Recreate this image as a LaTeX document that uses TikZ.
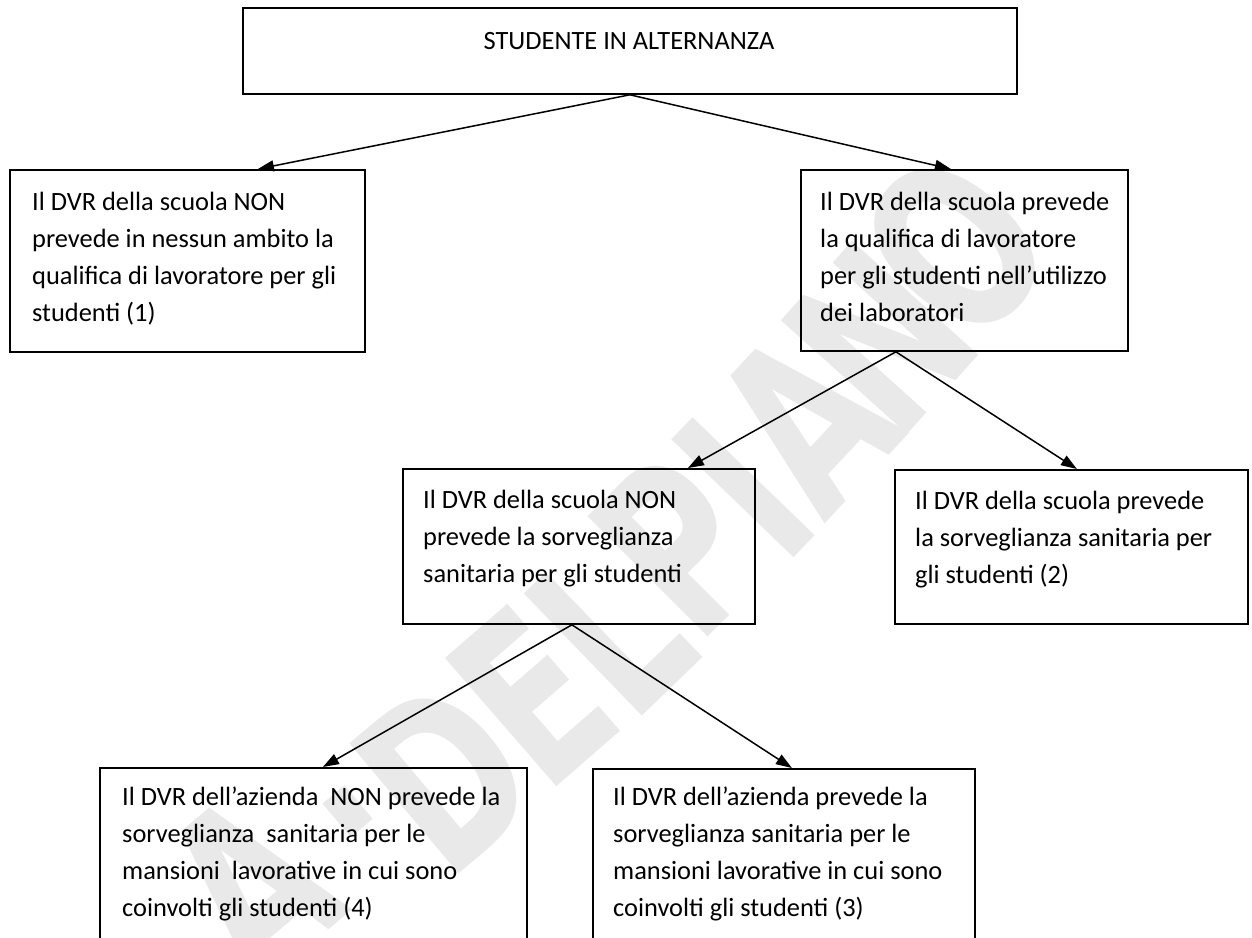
\documentclass[tikz,border=0pt]{standalone}
\usepackage{fontspec}
\usepackage{graphicx}
\setmainfont{Carlito}
\newfontfamily\wmfont{DejaVu Sans}
\usetikzlibrary{arrows.meta}
\newcommand\bodyfont{\fontsize{26.4}{37}\selectfont}
\newcommand\boxlines[1]{\parbox[t]{600pt}{\raggedright #1}}
\newcommand\wmch[1]{\scalebox{0.7}[1]{#1}}
\begin{document}
\begin{tikzpicture}[x=1pt,y=-1pt,
  box/.style={draw, line width=1.8pt, inner sep=0pt, anchor=north west},
  txt/.style={inner sep=0pt, anchor=base west, font=\bodyfont},
  arr/.style={line width=1.5pt, -{Triangle[length=16pt,width=11pt]}},
  wm/.style={text=gray!17, inner sep=0pt, font=\wmfont\bfseries\fontsize{233}{233}\selectfont}]
\clip (0,0) rectangle (1252,937);
\fill[white] (0,0) rectangle (1252,937);
% watermark
\node[wm, rotate=40] (wmA) at (250,885) {\wmch{A}};
\node[wm, rotate=40] (wmdot) at (348,812) {\wmch{.}};
\node[wm, rotate=40] (wmD) at (445,775) {\wmch{D}};
\node[wm, rotate=41] (wmE) at (532,696) {\wmch{E}};
\node[wm, rotate=44] (wmL) at (610,629) {\wmch{L}};
\node[wm, rotate=45] (wmP) at (680,545) {\wmch{P}};
\node[wm, rotate=46] (wmI) at (743,488) {\wmch{I}};
\node[wm, rotate=47] (wmA2) at (805,420) {\wmch{A}};
\node[wm, rotate=48] (wmN) at (880,338) {\wmch{N}};
\node[wm, rotate=49] (wmO) at (955,247) {\wmch{O}};
% boxes
\node[box, minimum width=774pt, minimum height=86pt] (T) at (242,7) {};
\node[box, minimum width=355pt, minimum height=182pt] (L) at (9,169) {};
\node[box, minimum width=327pt, minimum height=181pt] (R) at (800,169) {};
\node[box, minimum width=352pt, minimum height=155pt] (M) at (402,468) {};
\node[box, minimum width=353pt, minimum height=154pt] (RM) at (894,469) {};
\node[box, minimum width=427pt, minimum height=220pt] (BL) at (99,767) {};
\node[box, minimum width=382pt, minimum height=220pt] (BR) at (592,768) {};
% texts
\node[inner sep=0pt, anchor=base, font=\bodyfont] (tT) at (629,49) {STUDENTE IN ALTERNANZA};
\node[txt] (tL) at (32,210) {\boxlines{Il DVR della scuola NON\\prevede in nessun ambito la\\qualifica di lavoratore per gli\\studenti (1)}};
\node[txt] (tR) at (820,210) {\boxlines{Il DVR della scuola prevede\\la qualifica di lavoratore\\per gli studenti nell’utilizzo\\dei laboratori}};
\node[txt] (tM) at (423,508) {\boxlines{Il DVR della scuola NON\\prevede la sorveglianza\\sanitaria per gli studenti}};
\node[txt] (tRM) at (915,509) {\boxlines{Il DVR della scuola prevede\\la sorveglianza sanitaria per\\gli studenti (2)}};
\node[txt] (tBL) at (122,805) {\boxlines{Il DVR dell’azienda~ NON prevede la\\sorveglianza~ sanitaria per le\\mansioni~ lavorative in cui sono\\coinvolti gli studenti (4)}};
\node[txt] (tBR) at (613,805) {\boxlines{Il DVR dell’azienda prevede la\\sorveglianza sanitaria per le\\mansioni lavorative in cui sono\\coinvolti gli studenti (3)}};
% connectors
\draw[arr] (T.south) -- ([xshift=70.5pt]L.north);
\draw[arr] (T.south) -- ([xshift=-13.5pt]R.north);
\draw[arr] ([xshift=-68.5pt]R.south) -- ([xshift=109pt]M.north);
\draw[arr] ([xshift=-68.5pt]R.south) -- ([xshift=5.5pt]RM.north);
\draw[arr] ([xshift=-7pt]M.south) -- ([xshift=9.5pt]BL.north);
\draw[arr] ([xshift=-7pt]M.south) -- ([xshift=8pt]BR.north);
\end{tikzpicture}
\end{document}
